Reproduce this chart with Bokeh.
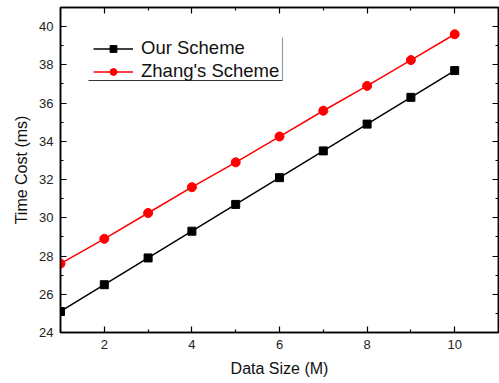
from bokeh.plotting import figure
from bokeh.models import LinearAxis, Legend, LegendItem, Arrow, FixedTicker
from bokeh.embed import file_html
from bokeh.resources import INLINE

data_size = [1, 2, 3, 4, 5, 6, 7, 8, 9, 10]
our_scheme = [25.1, 26.5, 27.9, 29.3, 30.7, 32.1, 33.5, 34.9, 36.3, 37.7]
zhang_scheme = [27.6, 28.9, 30.25, 31.6, 32.9, 34.25, 35.6, 36.9, 38.25, 39.6]
x_ticks = [2, 4, 6, 8, 10]
x_minor = [1, 3, 5, 7, 9, 11]
y_ticks = [24, 26, 28, 30, 32, 34, 36, 38, 40]
y_minor = [25, 27, 29, 31, 33, 35, 37, 39, 41]

FONT = "Liberation Sans"

p = figure(width=499, height=383, x_range=(1, 11), y_range=(24, 41),
           output_backend="svg", toolbar_location=None,
           min_border_left=60, min_border_right=1, min_border_top=7, min_border_bottom=51)
p.grid.visible = False
p.outline_line_color = "black"
p.outline_line_width = 1.5
p.background_fill_color = "white"
p.border_fill_color = "white"

def style_axis(ax, labels=True):
    ax.axis_line_color = "black"
    ax.axis_line_width = 1.5
    ax.major_tick_in = 6
    ax.major_tick_out = 0
    ax.minor_tick_in = 3
    ax.minor_tick_out = 0
    ax.major_tick_line_color = "black"
    ax.minor_tick_line_color = "black"
    ax.major_tick_line_width = 1.2
    ax.minor_tick_line_width = 1.2
    ax.major_label_text_font = FONT
    ax.major_label_text_font_size = "13px"
    ax.major_label_text_color = "#222222" if labels else None
    ax.major_label_standoff = 7 if labels else 0
    ax.axis_label_text_font = FONT
    ax.axis_label_text_font_size = "16px"
    ax.axis_label_text_font_style = "normal"
    ax.axis_label_text_color = "#111111"

xb = p.xaxis[0]
xb.ticker = FixedTicker(ticks=x_ticks, minor_ticks=x_minor)
xb.axis_label = "Data Size (M)"
style_axis(xb)
xb.axis_label_standoff = 8

yl = p.yaxis[0]
yl.ticker = FixedTicker(ticks=y_ticks, minor_ticks=y_minor)
yl.axis_label = "Time Cost (ms)"
style_axis(yl)
yl.axis_label_standoff = 6

xt = LinearAxis(ticker=FixedTicker(ticks=x_ticks, minor_ticks=x_minor))
style_axis(xt, labels=False)
p.add_layout(xt, "above")
yr = LinearAxis(ticker=FixedTicker(ticks=y_ticks, minor_ticks=y_minor))
style_axis(yr, labels=False)
p.add_layout(yr, "right")

l1 = p.line(data_size, our_scheme, line_color="black", line_width=1.5)
m1 = p.scatter(data_size, our_scheme, marker="square", size=8, fill_color="black", line_color="black")
l2 = p.line(data_size, zhang_scheme, line_color="#ff0000", line_width=1.5)
m2 = p.scatter(data_size, zhang_scheme, marker="circle", size=9, fill_color="#ff0000", line_color="#ff0000")

legend = Legend(items=[LegendItem(label="Our Scheme", renderers=[l1, m1]),
                       LegendItem(label="Zhang's Scheme", renderers=[l2, m2])],
                location=(33, 250), orientation="vertical",
                label_text_font=FONT, label_text_font_size="18.5px",
                label_text_color="#111111",
                glyph_width=40, glyph_height=17, label_height=17,
                label_standoff=8, spacing=1, padding=0, margin=0,
                border_line_color=None, background_fill_alpha=0)
p.add_layout(legend, "center")

# legend box shadow edges (right and bottom)
p.add_layout(Arrow(end=None, x_start=28, y_start=252, x_end=222, y_end=252,
                   start_units="screen", end_units="screen",
                   line_color="#333333", line_width=1.2))
p.add_layout(Arrow(end=None, x_start=222, y_start=252, x_end=222, y_end=295,
                   start_units="screen", end_units="screen",
                   line_color="#999999", line_width=1.2))

open("out.html", "w").write(file_html(p, INLINE))
